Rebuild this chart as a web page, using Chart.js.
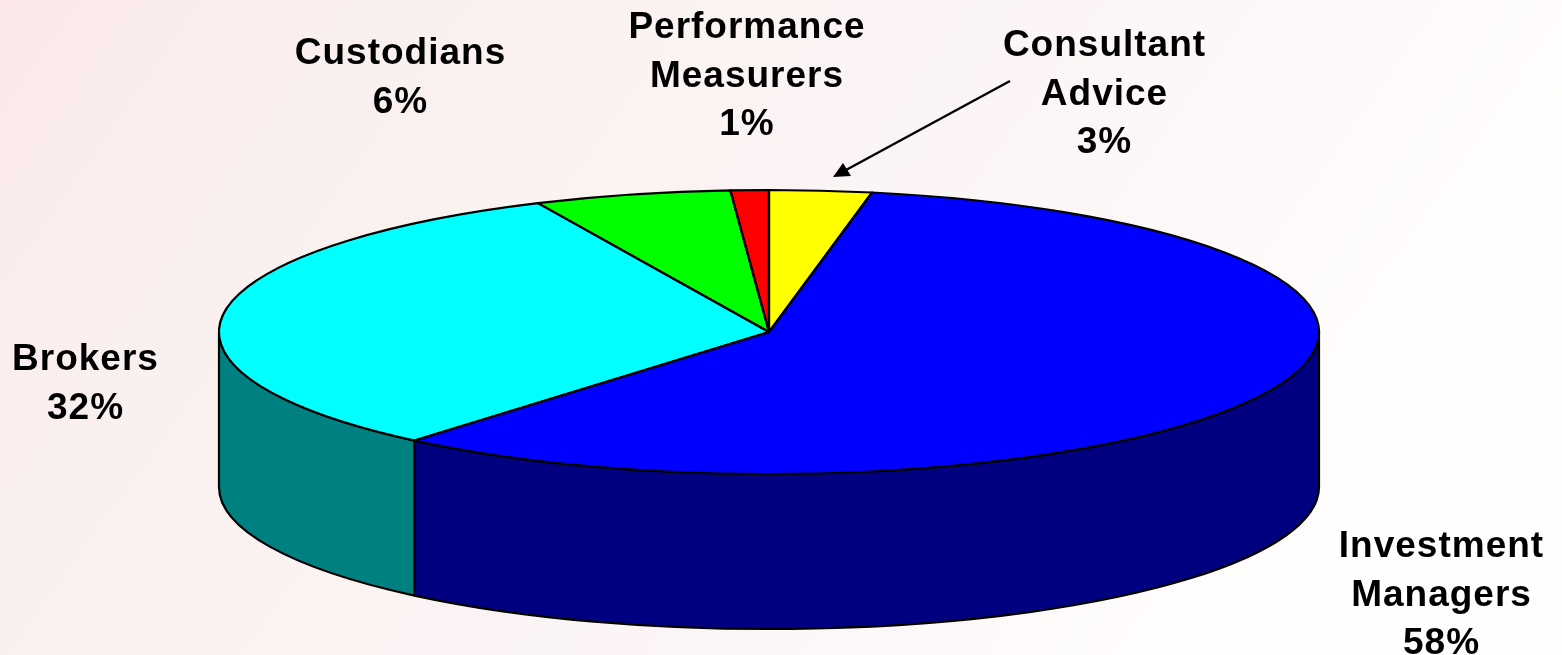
<!DOCTYPE html>
<html><head><meta charset="utf-8">
<style>
html,body{margin:0;padding:0;width:1562px;height:655px;overflow:hidden;background:linear-gradient(125deg,#fce8e8 0%,#faeeee 12%,#fbf2f2 35%,#fcf5f5 55%,#fffcfc 78%,#fffefe 100%);}
canvas{display:block;}
</style>
<script src="https://cdn.jsdelivr.net/npm/chart.js@4"></script>
</head><body>
<canvas id="c" width="1562" height="655"></canvas>
<script>
const categories = ['Consultant Advice','Investment Managers','Brokers','Custodians','Performance Measurers'];
const shares = [3,58.15,31.95,5.78,1.12];
const topColors = ['#ffff00','#0000ff','#00ffff','#00ff00','#ff0000'];
const wallColors = ['#808000','#000080','#008080','#008000','#800000'];
const labelLines = [
  ['Consultant','Advice','3%'],
  ['Investment','Managers','58%'],
  ['Brokers','32%'],
  ['Custodians','6%'],
  ['Performance','Measurers','1%']
];
const labelAnchors = [[1104.5,46],[1441.5,547],[85.5,360],[400.5,54],[747,28]];

const RX = 550, SQUASH = 142/550, DEPTH = 155, LINE_GAP = 48.5;

const pie3d = {
  id:'pie3d',
  beforeDatasetsDraw(chart){
    const ctx = chart.ctx, arcs = chart.getDatasetMeta(0).data;
    const cx = arcs[0].x, cy = arcs[0].y, ry = RX*SQUASH;
    ctx.save();
    ctx.lineWidth = 2.2; ctx.strokeStyle = '#000'; ctx.lineJoin = 'round';
    arcs.forEach((el,i)=>{
      const norm = a => { let v = a % (2*Math.PI); if (v < -Math.PI) v += 2*Math.PI; return v; };
      let a = norm(el.startAngle), b = a + (el.endAngle - el.startAngle);
      const from = Math.max(a,0), to = Math.min(b,Math.PI);
      if (to <= from) return;
      ctx.beginPath();
      ctx.ellipse(cx,cy,RX,ry,0,from,to);
      ctx.ellipse(cx,cy+DEPTH,RX,ry,0,to,from,true);
      ctx.closePath();
      ctx.fillStyle = wallColors[i];
      ctx.fill(); ctx.stroke();
    });
    ctx.restore();
    ctx.save();
    ctx.translate(cx,cy); ctx.scale(1,SQUASH); ctx.translate(-cx,-cy);
  },
  afterDatasetsDraw(chart){
    const ctx = chart.ctx, arcs = chart.getDatasetMeta(0).data;
    ctx.restore();
    const cx = arcs[0].x, cy = arcs[0].y, ry = RX*SQUASH;
    ctx.save();
    ctx.lineWidth = 2.2; ctx.strokeStyle = '#000'; ctx.lineJoin = 'round';
    arcs.forEach(el=>{
      ctx.beginPath();
      ctx.moveTo(cx,cy);
      ctx.ellipse(cx,cy,RX,ry,0,el.startAngle,el.endAngle);
      ctx.closePath();
      ctx.stroke();
    });
    ctx.restore();
  },
  afterDraw(chart){
    const ctx = chart.ctx;
    ctx.save();
    ctx.fillStyle = '#000';
    ctx.font = 'bold 37px "Liberation Sans", Arial, sans-serif';
    ctx.letterSpacing = '1px';
    ctx.textAlign = 'center'; ctx.textBaseline = 'middle';
    labelLines.forEach((lines,i)=>{
      const [x,y] = labelAnchors[i];
      lines.forEach((t,j)=>ctx.fillText(t,x,y+j*LINE_GAP));
    });
    ctx.strokeStyle = '#000'; ctx.lineWidth = 2.4;
    ctx.beginPath(); ctx.moveTo(1010,81); ctx.lineTo(846,170); ctx.stroke();
    ctx.beginPath(); ctx.moveTo(833,177); ctx.lineTo(843,163); ctx.lineTo(851,176); ctx.closePath(); ctx.fill();
    ctx.restore();
  }
};

new Chart(document.getElementById('c'),{
  type:'pie',
  data:{labels:categories,datasets:[{data:shares,backgroundColor:topColors,borderWidth:0}]},
  options:{
    responsive:false,animation:false,radius:RX,
    layout:{padding:{top:9,right:24,left:0,bottom:0}},
    plugins:{legend:{display:false},tooltip:{enabled:false}}
  },
  plugins:[pie3d]
});
</script>
</body></html>
